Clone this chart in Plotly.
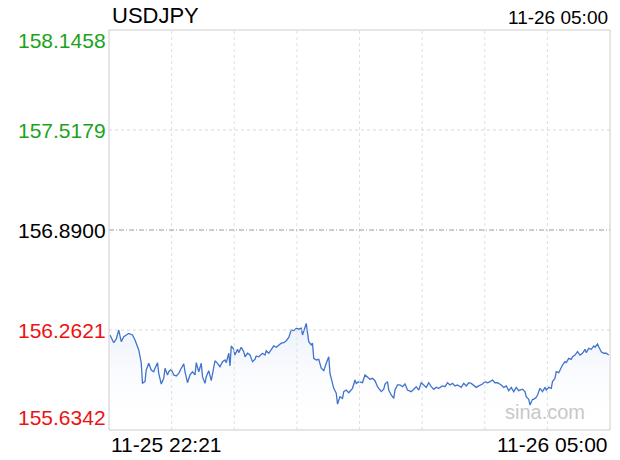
import plotly.graph_objects as go

# USDJPY intraday, minutes after 11-25 22:21
minutes = [0, 3, 5, 7, 9, 11, 13, 15, 18, 20, 23, 25, 26, 28, 29, 31, 33, 35, 36, 38,
           39, 41, 43, 44, 46, 47, 49, 51, 53, 55, 57, 59, 60, 62, 64, 66, 68, 69, 71, 73,
           74, 76, 77, 79, 81, 83, 84, 86, 88, 90, 92, 93, 95, 96, 97, 99, 100, 102, 103, 105,
           107, 108, 110, 112, 114, 116, 117, 119, 122, 124, 125, 127, 129, 131, 133, 135, 137, 139, 141, 143,
           145, 147, 149, 151, 153, 154, 156, 157, 159, 161, 162, 163, 165, 167, 169, 171, 173, 175, 176, 178,
           179, 181, 182, 184, 186, 187, 189, 191, 194, 196, 197, 199, 202, 204, 206, 208, 210, 212, 214, 217,
           219, 220, 222, 223, 225, 227, 228, 230, 232, 234, 236, 238, 241, 243, 245, 247, 249, 251, 253, 255,
           257, 259, 261, 263, 266, 268, 270, 272, 274, 276, 278, 281, 283, 285, 287, 289, 291, 293, 295, 298,
           300, 302, 304, 306, 308, 310, 313, 315, 317, 319, 321, 323, 325, 327, 330, 332, 333, 335, 336, 338,
           339, 341, 342, 344, 346, 348, 349, 351, 353, 354, 356, 357, 359, 361, 362, 364, 365, 367, 369, 370,
           372, 374, 376, 378, 380, 381, 383, 385, 387, 388, 390, 391, 393, 395, 397, 399]

prices = [156.231, 156.182, 156.206, 156.262, 156.189, 156.220, 156.231, 156.241, 156.231, 156.199,
          156.137, 156.055, 155.929, 155.938, 156.011, 156.053, 156.011, 156.000, 156.022, 156.057,
          155.990, 155.923, 155.959, 156.022, 155.980, 156.000, 156.015, 155.980, 155.973, 155.990,
          156.022, 156.049, 156.000, 155.931, 155.980, 156.000, 155.980, 156.057, 156.000, 156.053,
          155.969, 155.927, 155.969, 156.007, 155.944, 156.022, 156.069, 156.053, 156.032, 156.063,
          156.074, 156.057, 156.116, 156.036, 156.162, 156.141, 156.105, 156.141, 156.120, 156.154,
          156.126, 156.094, 156.116, 156.105, 156.063, 156.078, 156.099, 156.094, 156.116, 156.105,
          156.132, 156.116, 156.141, 156.162, 156.154, 156.168, 156.179, 156.182, 156.195, 156.216,
          156.262, 156.258, 156.273, 156.267, 156.273, 156.231, 156.283, 156.304, 156.189, 156.168,
          156.179, 156.084, 156.074, 156.078, 156.022, 156.007, 156.053, 156.094, 155.990, 155.938,
          155.896, 155.865, 155.797, 155.843, 155.833, 155.875, 155.885, 155.868, 155.896, 155.948,
          155.927, 155.938, 155.931, 155.980, 155.969, 155.953, 155.959, 155.944, 155.906, 155.875,
          155.890, 155.923, 155.938, 155.885, 155.854, 155.833, 155.885, 155.917, 155.917, 155.906,
          155.923, 155.885, 155.875, 155.890, 155.906, 155.885, 155.931, 155.917, 155.902, 155.931,
          155.906, 155.890, 155.902, 155.896, 155.911, 155.906, 155.931, 155.917, 155.927, 155.911,
          155.917, 155.902, 155.927, 155.911, 155.931, 155.927, 155.917, 155.902, 155.911, 155.923,
          155.938, 155.931, 155.938, 155.948, 155.931, 155.931, 155.917, 155.902, 155.911, 155.881,
          155.902, 155.875, 155.902, 155.881, 155.890, 155.875, 155.843, 155.827, 155.791, 155.827,
          155.827, 155.840, 155.854, 155.896, 155.875, 155.902, 155.885, 155.902, 155.896, 155.938,
          155.959, 156.000, 155.994, 156.032, 156.042, 156.063, 156.057, 156.084, 156.078, 156.094,
          156.105, 156.126, 156.105, 156.116, 156.141, 156.120, 156.147, 156.141, 156.162, 156.154,
          156.174, 156.157, 156.126, 156.116, 156.116, 156.105]

prev_close = 156.8900
y_ticks = [158.1458, 157.5179, 156.8900, 156.2621, 155.6342]
y_labels = ["158.1458", "157.5179", "156.8900", "156.2621", "155.6342"]
time_labels = ["11-25 22:21", "11-26 05:00"]
symbol = "USDJPY"
stamp = "11-26 05:00"

FONT = "Liberation Sans, Arial, sans-serif"
LINE = "#4173cc"

fig = go.Figure()
# baseline for the area fill
fig.add_trace(go.Scatter(x=minutes, y=[y_ticks[-1]] * len(minutes), mode="lines",
                         line=dict(width=0), hoverinfo="skip", showlegend=False))
fig.add_trace(go.Scatter(
    x=minutes, y=prices, mode="lines", fill="tonexty",
    line=dict(color=LINE, width=1.3),
    fillgradient=dict(type="vertical",
                      colorscale=[[0, "rgba(255,255,255,0)"], [1, "rgba(215,226,248,0.5)"]]),
    showlegend=False,
))

shapes = []
# vertical grid, 8 columns
for k in range(1, 8):
    shapes.append(dict(type="line", xref="paper", yref="paper", x0=k / 8, x1=k / 8, y0=0, y1=1,
                       line=dict(color="#e0e0e0", width=1, dash="dot")))
# horizontal grid
for v in (y_ticks[1], y_ticks[3]):
    shapes.append(dict(type="line", xref="paper", yref="y", x0=0, x1=1, y0=v, y1=v,
                       line=dict(color="#d8d8d8", width=1, dash="dot")))
shapes.append(dict(type="line", xref="paper", yref="y", x0=0, x1=1, y0=prev_close, y1=prev_close,
                   line=dict(color="#9a9a9a", width=1, dash="5px,2px,1px,2px")))
# frame
shapes.append(dict(type="rect", xref="paper", yref="paper", x0=0, x1=1, y0=0, y1=1,
                   line=dict(color="#cccccc", width=1)))

colors = ["#1aa31a", "#1aa31a", "#000000", "#ee1111", "#ee1111"]
anchors = ["top", "middle", "middle", "middle", "bottom"]
shifts = [3, 0, 0, 0, -1]
annotations = []
for v, t, c, a, s in zip(y_ticks, y_labels, colors, anchors, shifts):
    annotations.append(dict(x=0, xref="paper", y=v, yref="y", text=t, showarrow=False,
                            xanchor="right", yanchor=a, xshift=-1, yshift=s,
                            font=dict(family=FONT, size=21, color=c)))
annotations += [
    dict(x=0, xref="paper", y=1, yref="paper", text=symbol, showarrow=False,
         xanchor="left", yanchor="bottom", xshift=1,
         font=dict(family=FONT, size=22, color="#000")),
    dict(x=1, xref="paper", y=1, yref="paper", text=stamp, showarrow=False,
         xanchor="right", yanchor="bottom",
         font=dict(family=FONT, size=19, color="#000")),
    dict(x=0, xref="paper", y=0, yref="paper", text=time_labels[0], showarrow=False,
         xanchor="left", yanchor="top", yshift=-1,
         font=dict(family=FONT, size=21, color="#000")),
    dict(x=1, xref="paper", y=0, yref="paper", text=time_labels[1], showarrow=False,
         xanchor="right", yanchor="top", yshift=-1,
         font=dict(family=FONT, size=21, color="#000")),
    dict(x=0.955, xref="paper", y=0.045, yref="paper", text="sina.com", showarrow=False,
         xanchor="right", yanchor="middle",
         font=dict(family=FONT, size=20, color="#c8c8c8")),
]

fig.update_layout(
    width=620, height=460,
    margin=dict(l=109, r=10, t=30, b=30),
    paper_bgcolor="white", plot_bgcolor="white",
    xaxis=dict(range=[-0.8, 400], showgrid=False, showticklabels=False, zeroline=False,
               showline=False, ticks=""),
    yaxis=dict(range=[y_ticks[-1], y_ticks[0]], showgrid=False, showticklabels=False,
               zeroline=False, showline=False, ticks=""),
    shapes=shapes,
    annotations=annotations,
    showlegend=False,
)

fig.write_html("out.html", config={"displayModeBar": False},
               post_script="document.body.style.margin='0';")
